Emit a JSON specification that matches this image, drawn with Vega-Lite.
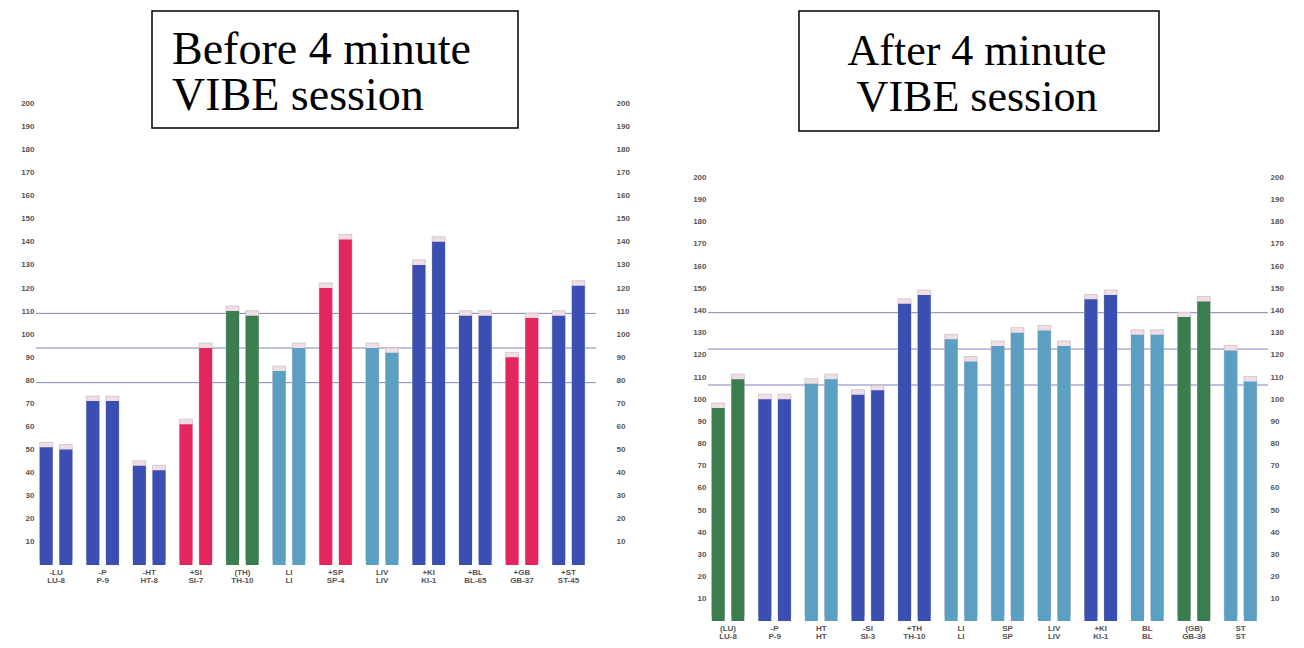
{
  "$schema": "https://vega.github.io/schema/vega-lite/v6.json",
  "background": "white",
  "padding": {"left": 20, "top": 10, "right": 5, "bottom": 5},
  "spacing": 62,
  "datasets": {
    "before": [
      {"g": "-LU|LU-8", "s": 1, "v": 51, "c": "blue"},
      {"g": "-LU|LU-8", "s": 2, "v": 50, "c": "blue"},
      {"g": "-P|P-9", "s": 1, "v": 71, "c": "blue"},
      {"g": "-P|P-9", "s": 2, "v": 71, "c": "blue"},
      {"g": "-HT|HT-8", "s": 1, "v": 43, "c": "blue"},
      {"g": "-HT|HT-8", "s": 2, "v": 41, "c": "blue"},
      {"g": "+SI|SI-7", "s": 1, "v": 61, "c": "red"},
      {"g": "+SI|SI-7", "s": 2, "v": 94, "c": "red"},
      {"g": "(TH)|TH-10", "s": 1, "v": 110, "c": "green"},
      {"g": "(TH)|TH-10", "s": 2, "v": 108, "c": "green"},
      {"g": "LI|LI", "s": 1, "v": 84, "c": "teal"},
      {"g": "LI|LI", "s": 2, "v": 94, "c": "teal"},
      {"g": "+SP|SP-4", "s": 1, "v": 120, "c": "red"},
      {"g": "+SP|SP-4", "s": 2, "v": 141, "c": "red"},
      {"g": "LIV|LIV", "s": 1, "v": 94, "c": "teal"},
      {"g": "LIV|LIV", "s": 2, "v": 92, "c": "teal"},
      {"g": "+KI|KI-1", "s": 1, "v": 130, "c": "blue"},
      {"g": "+KI|KI-1", "s": 2, "v": 140, "c": "blue"},
      {"g": "+BL|BL-65", "s": 1, "v": 108, "c": "blue"},
      {"g": "+BL|BL-65", "s": 2, "v": 108, "c": "blue"},
      {"g": "+GB|GB-37", "s": 1, "v": 90, "c": "red"},
      {"g": "+GB|GB-37", "s": 2, "v": 107, "c": "red"},
      {"g": "+ST|ST-45", "s": 1, "v": 108, "c": "blue"},
      {"g": "+ST|ST-45", "s": 2, "v": 121, "c": "blue"}
    ],
    "after": [
      {"g": "(LU)|LU-8", "s": 1, "v": 96, "c": "green"},
      {"g": "(LU)|LU-8", "s": 2, "v": 109, "c": "green"},
      {"g": "-P|P-9", "s": 1, "v": 100, "c": "blue"},
      {"g": "-P|P-9", "s": 2, "v": 100, "c": "blue"},
      {"g": "HT|HT", "s": 1, "v": 107, "c": "teal"},
      {"g": "HT|HT", "s": 2, "v": 109, "c": "teal"},
      {"g": "-SI|SI-3", "s": 1, "v": 102, "c": "blue"},
      {"g": "-SI|SI-3", "s": 2, "v": 104, "c": "blue"},
      {"g": "+TH|TH-10", "s": 1, "v": 143, "c": "blue"},
      {"g": "+TH|TH-10", "s": 2, "v": 147, "c": "blue"},
      {"g": "LI|LI", "s": 1, "v": 127, "c": "teal"},
      {"g": "LI|LI", "s": 2, "v": 117, "c": "teal"},
      {"g": "SP|SP", "s": 1, "v": 124, "c": "teal"},
      {"g": "SP|SP", "s": 2, "v": 130, "c": "teal"},
      {"g": "LIV|LIV", "s": 1, "v": 131, "c": "teal"},
      {"g": "LIV|LIV", "s": 2, "v": 124, "c": "teal"},
      {"g": "+KI|KI-1", "s": 1, "v": 145, "c": "blue"},
      {"g": "+KI|KI-1", "s": 2, "v": 147, "c": "blue"},
      {"g": "BL|BL", "s": 1, "v": 129, "c": "teal"},
      {"g": "BL|BL", "s": 2, "v": 129, "c": "teal"},
      {"g": "(GB)|GB-38", "s": 1, "v": 137, "c": "green"},
      {"g": "(GB)|GB-38", "s": 2, "v": 144, "c": "green"},
      {"g": "ST|ST", "s": 1, "v": 122, "c": "teal"},
      {"g": "ST|ST", "s": 2, "v": 108, "c": "teal"}
    ],
    "linesBefore": [{"v": 109}, {"v": 94}, {"v": 79}],
    "linesAfter": [{"v": 139}, {"v": 122.6}, {"v": 106.4}]
  },
  "hconcat": [
    {
      "width": 560,
      "height": 554,
      "layer": [
        {
          "data": {"name": "linesBefore"},
          "mark": {"type": "rule", "color": "#7f84bb", "strokeWidth": 1},
          "encoding": {
            "y": {"field": "v", "type": "quantitative", "scale": {"domain": [0, 240], "nice": false},
              "axis": {"orient": "right", "title": null, "labelPadding": 20, "values": [10,20,30,40,50,60,70,80,90,100,110,120,130,140,150,160,170,180,190,200]}}
          }
        },
        {
          "data": {"name": "before"},
          "mark": {"type": "bar", "color": "#f0dde6", "stroke": "#bdb3bb", "strokeWidth": 0.6, "x2Offset": 5, "yOffset": -5},
          "encoding": {
            "x": {"field": "g", "type": "nominal", "sort": null, "axis": null, "scale": {"paddingInner": 0.3, "paddingOuter": 0.16, "align": 0.25}},
            "xOffset": {"field": "s", "type": "nominal", "scale": {"paddingInner": 0.34}},
            "y": {"field": "v", "type": "quantitative", "axis": null}
          }
        },
        {
          "data": {"name": "before"},
          "mark": {"type": "bar"},
          "encoding": {
            "x": {"field": "g", "type": "nominal", "sort": null, "scale": {"paddingInner": 0.3, "paddingOuter": 0.16, "align": 0.25},
              "axis": {"title": null, "labelAngle": 0, "labelPadding": 3, "labelLineHeight": 8, "labelExpr": "split(datum.label, '|')"}},
            "xOffset": {"field": "s", "type": "nominal", "scale": {"paddingInner": 0.34}},
            "y": {"field": "v", "type": "quantitative",
              "axis": {"orient": "left", "title": null, "labelPadding": 2, "values": [10,20,30,40,50,60,70,80,90,100,110,120,130,140,150,160,170,180,190,200]}},
            "color": {"field": "c", "type": "nominal", "legend": null,
              "scale": {"domain": ["blue", "red", "green", "teal"], "range": ["#3b4fb3", "#e5265e", "#3c7d50", "#5b9fc3"]}}
          }
        },
        {
          "data": {"values": [{}]},
          "mark": {"type": "rect", "fill": "white", "stroke": "black", "strokeWidth": 1.5},
          "encoding": {
            "x": {"datum": 116, "type": "quantitative", "scale": {"domain": [0, 560], "nice": false, "zero": false}, "axis": null},
            "x2": {"datum": 482},
            "y": {"datum": 189.3, "type": "quantitative", "axis": null},
            "y2": {"datum": 240}
          }
        },
        {
          "data": {"values": [{}]},
          "mark": {"type": "text", "text": ["Before 4 minute", "VIBE session"], "align": "left", "baseline": "alphabetic",
            "font": "Liberation Serif", "fontSize": 46, "lineHeight": 46, "color": "black"},
          "encoding": {
            "x": {"datum": 136, "type": "quantitative", "scale": {"domain": [0, 560], "nice": false, "zero": false}, "axis": null},
            "y": {"datum": 217, "type": "quantitative", "axis": null}
          }
        }
      ],
      "resolve": {"scale": {"x": "independent"}, "axis": {"y": "independent", "x": "independent"}}
    },
    {
      "width": 560,
      "height": 610,
      "layer": [
        {
          "data": {"name": "linesAfter"},
          "mark": {"type": "rule", "color": "#7f84bb", "strokeWidth": 1},
          "encoding": {
            "y": {"field": "v", "type": "quantitative", "scale": {"domain": [0, 275], "nice": false},
              "axis": {"orient": "right", "title": null, "labelPadding": 2, "values": [10,20,30,40,50,60,70,80,90,100,110,120,130,140,150,160,170,180,190,200]}}
          }
        },
        {
          "data": {"name": "after"},
          "mark": {"type": "bar", "color": "#f0dde6", "stroke": "#bdb3bb", "strokeWidth": 0.6, "x2Offset": 5, "yOffset": -5},
          "encoding": {
            "x": {"field": "g", "type": "nominal", "sort": null, "axis": null, "scale": {"paddingInner": 0.3, "paddingOuter": 0.16, "align": 0.25}},
            "xOffset": {"field": "s", "type": "nominal", "scale": {"paddingInner": 0.34}},
            "y": {"field": "v", "type": "quantitative", "axis": null}
          }
        },
        {
          "data": {"name": "after"},
          "mark": {"type": "bar"},
          "encoding": {
            "x": {"field": "g", "type": "nominal", "sort": null, "scale": {"paddingInner": 0.3, "paddingOuter": 0.16, "align": 0.25},
              "axis": {"title": null, "labelAngle": 0, "labelPadding": 3, "labelLineHeight": 8, "labelExpr": "split(datum.label, '|')"}},
            "xOffset": {"field": "s", "type": "nominal", "scale": {"paddingInner": 0.34}},
            "y": {"field": "v", "type": "quantitative",
              "axis": {"orient": "left", "title": null, "labelPadding": 2, "values": [10,20,30,40,50,60,70,80,90,100,110,120,130,140,150,160,170,180,190,200]}},
            "color": {"field": "c", "type": "nominal", "legend": null,
              "scale": {"domain": ["blue", "red", "green", "teal"], "range": ["#3b4fb3", "#e5265e", "#3c7d50", "#5b9fc3"]}}
          }
        },
        {
          "data": {"values": [{}]},
          "mark": {"type": "rect", "fill": "white", "stroke": "black", "strokeWidth": 1.5},
          "encoding": {
            "x": {"datum": 91, "type": "quantitative", "scale": {"domain": [0, 560], "nice": false, "zero": false}, "axis": null},
            "x2": {"datum": 451},
            "y": {"datum": 220.9, "type": "quantitative", "axis": null},
            "y2": {"datum": 275}
          }
        },
        {
          "data": {"values": [{}]},
          "mark": {"type": "text", "text": ["After 4 minute", "VIBE session"], "align": "center", "baseline": "alphabetic",
            "font": "Liberation Serif", "fontSize": 44, "lineHeight": 46, "color": "black"},
          "encoding": {
            "x": {"datum": 269, "type": "quantitative", "scale": {"domain": [0, 560], "nice": false, "zero": false}, "axis": null},
            "y": {"datum": 250.7, "type": "quantitative", "axis": null}
          }
        }
      ],
      "resolve": {"scale": {"x": "independent"}, "axis": {"y": "independent", "x": "independent"}}
    }
  ],
  "config": {
    "view": {"stroke": null},
    "axis": {"labelFont": "Liberation Sans", "labelFontSize": 8, "labelFontWeight": "bold", "labelColor": "#555555",
      "ticks": false, "domain": false, "grid": false}
  }
}
